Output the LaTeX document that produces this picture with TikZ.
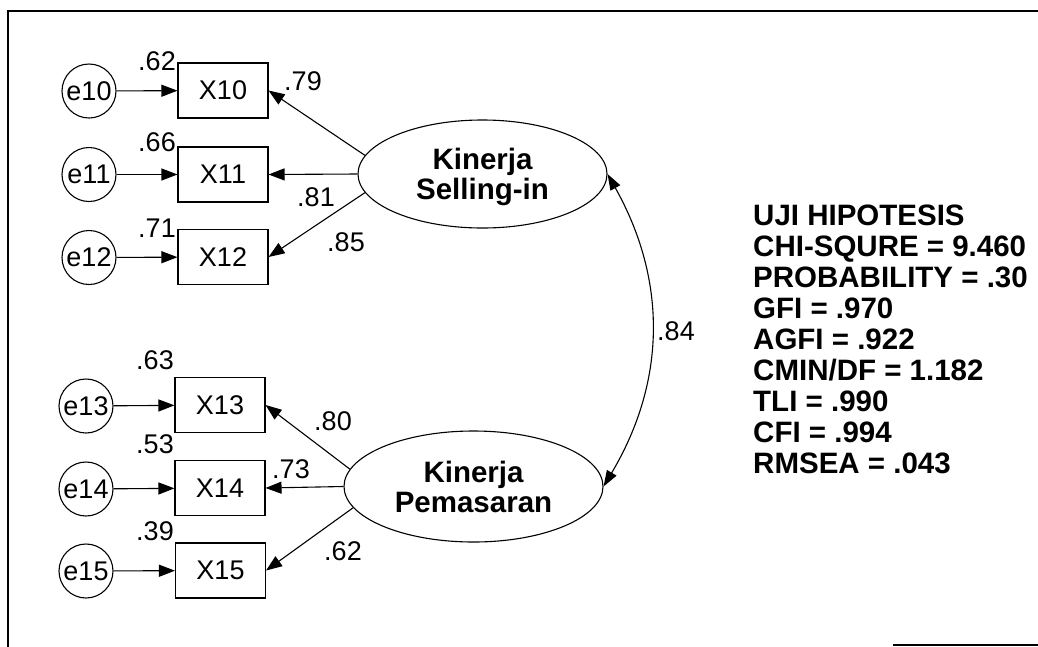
\documentclass[tikz,border=0pt]{standalone}
\usepackage{fontspec}
\setmainfont{Liberation Sans}
\usetikzlibrary{arrows.meta,shapes.geometric}
\tikzset{
  reg/.style={font=\fontsize{27}{27}\selectfont},
  errc/.style={circle,draw,line width=1.1pt,minimum size=54pt,inner sep=0pt,reg},
  obs/.style={rectangle,draw,line width=1.1pt,minimum width=90pt,minimum height=55pt,inner sep=0pt,reg},
  lat/.style={ellipse,draw,line width=1.1pt,inner sep=0pt,align=center,text depth=0pt,
      font=\fontsize{29.5}{30}\selectfont\bfseries},
  lbl/.style={inner sep=0pt,reg},
  arr/.style={line width=1.1pt,-{Triangle[length=16pt,width=12pt]}},
  covar/.style={line width=1.1pt,{Triangle[length=16pt,width=11pt]}-{Triangle[length=16pt,width=11pt]}},
  frame/.style={line width=2.6pt}
}
\begin{document}
\begin{tikzpicture}[x=1pt,y=-1pt]
\useasboundingbox (0,0) rectangle (1038,646);
% frame
\coordinate (f1) at (8,646);
\coordinate (f2) at (8,11);
\coordinate (f3) at (1038,11);
\draw[frame,line cap=rect] (f1) -- (f2) -- (f3);
\coordinate (b1) at (893,645);
\coordinate (b2) at (1038,645);
\draw[line width=1.6pt] (b1) -- (b2);

% latent
\node[lat,minimum width=249pt,minimum height=108pt] (S) at (482.5,174) {Kinerja\\Selling-in};
\node[lat,minimum width=259pt,minimum height=111pt] (P) at (473.5,486.5) {Kinerja\\Pemasaran};

% observed
\node[obs] (X10) at (223,90.5) {X10};
\node[obs] (X11) at (223,174.5) {X11};
\node[obs] (X12) at (223,257) {X12};
\node[obs] (X13) at (220,405) {X13};
\node[obs] (X14) at (220,488) {X14};
\node[obs] (X15) at (220.5,570.5) {X15};

% errors
\node[errc] (e10) at (89,91) {e10};
\node[errc] (e11) at (89,174.5) {e11};
\node[errc] (e12) at (89,257.5) {e12};
\node[errc] (e13) at (86,406) {e13};
\node[errc] (e14) at (86,489) {e14};
\node[errc] (e15) at (86,571) {e15};

% error arrows
\foreach \i in {10,...,15} \draw[arr] (e\i) -- (X\i);

% loadings
\draw[arr] (S.171) -- (X10.east);
\draw[arr] (S.west) -- (X11.east);
\draw[arr] (S.189) -- (X12.east);
\draw[arr] (P.172) -- (X13.east);
\draw[arr] (P.west) -- (X14.east);
\draw[arr] (P.190) -- (X15.east);

% covariance
\draw[covar] (S.east) to[bend left=30] (P.east);

% labels
\node[lbl] (l62) at (157,61) {.62};
\node[lbl] (l66) at (157,142) {.66};
\node[lbl] (l71) at (157,228) {.71};
\node[lbl] (l79) at (303,81) {.79};
\node[lbl] (l81) at (316,197) {.81};
\node[lbl] (l85) at (346,242) {.85};
\node[lbl] (l63) at (155,360) {.63};
\node[lbl] (l53) at (155,444) {.53};
\node[lbl] (l39) at (155,531) {.39};
\node[lbl] (l80) at (333,421) {.80};
\node[lbl] (l73) at (291,469) {.73};
\node[lbl] (l62b) at (343,551) {.62};
\node[lbl] (l84) at (676,331) {.84};

% stats
\node[inner sep=0pt,anchor=north west,align=left,font=\fontsize{29.5}{31}\selectfont\bfseries] (stats) at (753,205)
 {UJI HIPOTESIS\\CHI-SQURE = 9.460\\PROBABILITY = .30\\GFI = .970\\AGFI = .922\\CMIN/DF = 1.182\\TLI = .990\\CFI = .994\\RMSEA = .043};
\end{tikzpicture}
\end{document}
